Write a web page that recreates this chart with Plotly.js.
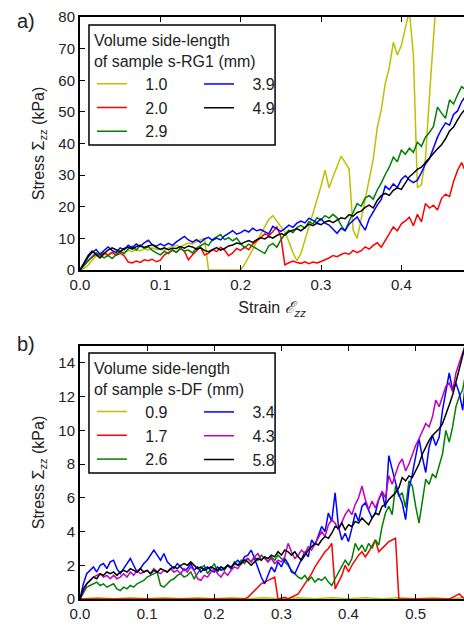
<!DOCTYPE html>
<html><head><meta charset="utf-8">
<script src="https://cdn.plot.ly/plotly-3.0.1.min.js"></script>
<style>html,body{margin:0;padding:0;background:#fff;}#chart{width:464px;height:626px;}</style>
</head><body><div id="chart"></div>
<script>
// ---------- Panel a) : sample s-RG1 ----------
const strainA = [
 0,0.005,0.01,0.015,0.02,0.025,0.03,0.035,0.04,0.045,
 0.05,0.055,0.06,0.065,0.07,0.075,0.08,0.085,0.09,0.095,
 0.1,0.105,0.11,0.115,0.12,0.125,0.13,0.135,0.14,0.145,
 0.15,0.155,0.16,0.165,0.17,0.175,0.18,0.185,0.19,0.195,
 0.2,0.205,0.21,0.215,0.22,0.225,0.23,0.235,0.24,0.245,
 0.25,0.255,0.26,0.265,0.27,0.275,0.28,0.285,0.29,0.295,
 0.3,0.305,0.31,0.315,0.32,0.325,0.33,0.335,0.34,0.345,
 0.35,0.355,0.36,0.365,0.37,0.375,0.38,0.385,0.39,0.395,
 0.4,0.405,0.41,0.415,0.42,0.425,0.43,0.435,0.44,0.445,
 0.45,0.455,0.46,0.465,0.47,0.475,0.48];
const labelsA = ["1.0","2.0","2.9","3.9","4.9"];
const stressA_10 = [
 0,0.5,1.5,3.0,4.5,4.0,5.0,4.5,5.5,5.0,
 6.0,5.5,6.2,5.8,6.5,6.0,6.8,6.3,7.0,6.5,
 6.8,6.2,7.0,7.4,7.8,7.2,8.0,8.5,8.2,9.0,
 9.6,10.0,0,0,0,0,0,0,0,0,
 0,1.8,4.0,6.5,9.0,11.5,13.8,16.0,17.2,15.5,
 13.5,12.0,9.0,5.5,3.0,5.2,9.5,13.8,17.7,22.0,
 26.5,31.6,26.0,29.5,33.0,36.0,34.0,32.0,12.6,10.0,
 16.0,22.0,28.0,35.0,45.0,50.6,59.0,64.0,72.0,68.0,
 71.0,76.0,82.0,68.0,26.0,27.0,35.0,55.0,76.0,92.0,
 110];
const stressA_20 = [
 0,1.5,3.0,4.0,5.0,4.6,5.4,4.8,5.6,4.6,
 5.3,4.5,2.5,2.2,2.8,2.4,3.2,2.9,3.4,2.6,
 3.1,4.8,5.5,6.2,5.6,6.8,5.9,3.2,4.8,6.2,
 7.3,4.7,5.3,6.5,5.8,7.2,6.3,4.5,5.4,6.8,
 6.2,7.3,6.4,8.2,9.1,10.2,11.4,10.8,12.1,13.6,
 10.5,1.6,2.3,2.8,2.4,2.1,2.6,2.0,2.5,2.2,
 2.7,3.2,3.8,4.6,4.2,4.9,5.4,5.0,6.2,5.5,
 6.1,7.3,6.6,7.8,8.6,7.2,9.4,11.5,13.6,12.4,
 14.6,15.5,16.7,14.0,17.6,15.2,21.0,19.6,20.5,19.0,
 22.6,24.0,23.2,28.0,31.5,34.0,31.0];
const stressA_29 = [
 0,1.5,3.0,4.2,5.5,4.5,3.8,4.6,3.6,4.8,
 5.9,5.2,6.6,7.5,6.3,7.8,6.8,7.4,6.2,5.4,
 4.8,5.9,5.2,6.4,5.6,6.8,6.0,6.3,5.4,6.9,
 7.6,8.4,7.8,9.6,10.5,11.2,9.6,10.2,9.2,10.1,
 8.4,7.0,8.2,7.5,6.8,6.0,5.2,7.6,8.4,7.2,
 9.5,11.3,12.6,11.8,13.4,14.1,13.2,15.3,14.6,16.5,
 15.8,17.2,16.4,17.6,16.5,14.2,12.3,15.4,18.2,21.0,
 20.2,22.8,23.5,22.4,25.3,27.5,30.2,32.5,35.7,34.2,
 37.9,36.6,38.5,37.2,40.4,39.1,42.0,43.5,45.4,51.5,
 49.6,48.0,53.8,52.5,55.4,58.0,57.0];
const stressA_39 = [
 0,2.0,4.0,5.5,6.5,5.0,6.0,7.3,6.2,5.5,
 7.0,6.4,7.8,7.0,8.2,7.4,8.6,9.4,8.0,7.5,
 8.3,7.6,8.4,7.8,8.9,9.8,10.6,9.5,8.8,9.6,
 8.7,9.8,10.3,9.4,10.1,9.5,10.8,11.6,12.4,11.3,
 11.8,12.6,12.0,13.2,12.4,12.8,12.1,11.4,13.8,12.9,
 12.2,13.1,14.2,13.5,14.8,15.5,14.9,16.4,15.6,15.0,
 16.2,14.8,14.2,12.8,11.6,13.2,12.5,14.5,15.8,16.8,
 14.5,12.6,16.2,18.5,20.5,22.3,26.5,25.4,27.2,26.1,
 28.6,29.8,28.5,27.6,28.4,30.8,33.5,35.2,38.4,42.0,
 44.5,46.5,45.8,49.2,50.3,53.2,55.0];
const stressA_49 = [
 0,2.5,4.5,6.0,5.0,3.8,5.2,6.3,7.0,6.5,
 5.8,6.8,7.2,6.6,7.4,7.8,7.1,7.6,8.0,7.2,
 6.5,7.0,6.4,6.9,6.8,7.4,6.9,7.6,7.3,6.6,
 7.0,6.2,5.8,6.4,7.1,6.3,6.8,7.6,7.9,8.5,
 8.2,8.8,9.3,8.7,9.6,10.2,9.8,10.6,10.1,10.9,
 11.5,11.0,12.1,12.6,13.0,12.4,13.6,14.5,14.0,14.8,
 14.3,15.2,15.6,15.0,15.8,16.5,16.2,17.5,17.0,18.2,
 18.6,19.8,20.5,19.6,22.0,23.5,24.2,23.6,25.2,26.0,
 25.5,27.4,29.5,30.6,31.8,32.5,34.0,35.5,37.0,38.3,
 39.6,41.5,44.0,45.2,47.5,49.5,51.0];

// ---------- Panel b) : sample s-DF ----------
const strainB = [
 0,0.005,0.01,0.015,0.02,0.025,0.03,0.035,0.04,0.045,
 0.05,0.055,0.06,0.065,0.07,0.075,0.08,0.085,0.09,0.095,
 0.1,0.105,0.11,0.115,0.12,0.125,0.13,0.135,0.14,0.145,
 0.15,0.155,0.16,0.165,0.17,0.175,0.18,0.185,0.19,0.195,
 0.2,0.205,0.21,0.215,0.22,0.225,0.23,0.235,0.24,0.245,
 0.25,0.255,0.26,0.265,0.27,0.275,0.28,0.285,0.29,0.295,
 0.3,0.305,0.31,0.315,0.32,0.325,0.33,0.335,0.34,0.345,
 0.35,0.355,0.36,0.365,0.37,0.375,0.38,0.385,0.39,0.395,
 0.4,0.405,0.41,0.415,0.42,0.425,0.43,0.435,0.44,0.445,
 0.45,0.455,0.46,0.465,0.47,0.475,0.48,0.485,0.49,0.495,
 0.5,0.505,0.51,0.515,0.52,0.525,0.53,0.535,0.54,0.545,
 0.55,0.555,0.56,0.565,0.57,0.575];
const labelsB = ["0.9","1.7","2.6","3.4","4.3","5.8"];
const strainB_09 = [0,0.025,0.05,0.075,0.1,0.125,0.15,0.175,0.2,0.225,0.25,0.275,0.3,0.325,0.35,0.375,0.4,0.425,0.45,0.475,0.5,0.525,0.55,0.575];
const stressB_09 = [0,0.08,0.02,0.08,0.02,0.08,0.02,0.08,0.02,0.08,0.02,0.08,0.02,0.08,0.02,0.08,0.02,0.08,0.02,0.08,0.02,0.08,0.02,0.08];
const stressB_17 = [
 0,0,0,0,0,0,0,0,0,0,
 0,0,0,0,0,0,0,0,0,0,
 0,0,0,0,0,0,0,0,0,0,
 0,0,0,0,0,0,0,0,0,0,
 0,0,0,0,0,0,0,0,0,0,
 0.1,0.3,0.5,0.7,0.9,1.0,1.1,1.2,1.3,0.0,
 0.05,0.1,0.0,0.1,0.2,0.3,0.6,0.9,1.2,1.5,
 1.9,2.2,2.5,2.8,3.0,3.3,0.6,1.0,1.4,2.0,
 1.6,2.0,2.3,2.6,2.8,2.5,2.8,3.2,3.5,2.8,
 3.0,3.2,3.4,3.5,3.6,0.0,0.0,0.0,0.0,0.0,
 0,0,0,0,0,0,0,0,0,0,
 0.0,0.1,0.2,0.3,0.1,0.0];
const stressB_26 = [
 0,0.4,0.7,0.8,0.9,1.0,0.8,0.9,0.7,0.8,
 0.9,0.6,0.5,0.7,0.6,0.8,0.7,0.9,1.0,1.1,
 1.3,1.4,1.5,1.6,0.8,0.7,0.9,1.1,1.2,1.4,
 1.5,1.3,1.4,1.6,1.2,1.5,1.8,2.0,1.5,1.8,
 2.1,1.6,1.9,1.7,2.0,1.8,2.2,2.0,2.3,2.1,
 2.4,2.2,2.5,2.3,2.6,2.4,2.2,2.5,2.3,2.6,
 2.4,2.2,2.0,1.7,1.5,1.3,1.2,1.4,1.1,1.3,
 1.0,1.2,1.1,1.3,1.0,0.8,1.2,1.6,2.0,2.3,
 2.0,2.4,3.3,2.9,3.2,2.8,3.3,3.0,3.5,3.2,
 4.3,5.1,5.5,5.0,6.7,6.1,6.3,5.4,7.0,6.7,
 5.5,4.5,5.8,7.1,6.8,7.4,7.2,7.9,8.6,10.0,
 9.3,10.2,11.4,12.0,12.4,13.5];
const stressB_34 = [
 0,0.9,1.5,1.7,1.9,1.6,2.0,2.1,1.8,2.2,
 2.3,1.8,1.5,1.8,2.1,2.4,2.0,1.6,1.8,2.1,
 2.3,2.6,2.9,2.6,2.3,2.7,2.2,2.0,1.8,2.1,
 1.9,1.7,1.8,2.1,1.7,1.9,1.6,1.8,1.9,1.7,
 1.6,1.9,1.7,1.8,2.0,1.8,2.1,2.3,2.1,2.5,
 2.6,2.9,2.4,1.8,1.3,0.9,1.4,1.9,1.6,2.2,
 1.9,2.4,2.1,1.6,1.5,1.9,2.3,2.8,2.5,3.5,
 3.2,3.8,4.3,4.0,5.1,4.6,6.3,4.3,3.5,3.9,
 3.4,4.2,5.1,4.6,5.5,5.7,5.2,4.8,5.1,5.9,
 6.3,5.4,8.5,7.6,6.9,6.2,5.7,4.7,6.5,7.4,
 8.5,9.5,8.4,7.5,9.0,9.7,9.1,9.6,11.2,12.2,
 13.4,12.4,12.8,12.2,11.2,13.2];
const stressB_43 = [
 0,0.5,0.9,1.1,1.3,1.4,1.5,1.3,1.4,1.2,
 1.4,1.2,1.3,1.5,1.3,1.6,1.4,1.7,1.5,1.6,
 1.7,1.5,1.8,1.6,1.5,1.7,1.6,1.8,1.6,1.7,
 1.5,1.8,1.6,1.9,1.7,1.2,1.1,1.4,1.3,1.6,
 1.8,1.5,1.3,1.6,1.4,1.7,1.9,1.8,2.1,2.3,
 2.4,2.2,2.5,2.7,2.3,2.5,2.2,2.4,2.1,2.3,
 2.2,2.5,3.3,2.8,2.4,2.6,2.9,2.7,3.1,2.9,
 3.3,3.6,4.0,3.7,4.4,4.7,4.5,4.1,4.6,5.0,
 5.3,5.0,5.6,6.0,6.7,5.9,5.3,5.8,5.4,5.9,
 6.4,6.0,7.3,6.8,7.4,8.0,8.3,7.6,8.0,8.6,
 9.1,9.5,10.0,10.4,10.2,10.8,11.8,11.4,12.0,12.6,
 12.8,12.3,13.4,14.0,14.7,15.2];
const stressB_58 = [
 0,0.6,0.9,1.1,1.3,1.2,1.5,1.4,1.6,1.5,
 1.6,1.4,1.6,1.7,1.6,1.8,1.7,1.6,1.8,1.6,
 1.7,1.5,1.7,1.6,1.8,1.7,1.6,1.8,1.9,1.8,
 2.0,2.1,2.0,2.2,2.0,1.8,1.9,1.7,1.8,1.9,
 1.8,1.7,1.9,1.8,2.0,1.9,2.1,2.0,2.1,2.3,
 2.2,2.0,2.2,2.4,2.3,2.5,2.4,2.6,2.5,2.8,
 2.6,2.9,2.8,2.6,2.8,2.5,2.3,2.6,2.9,3.1,
 3.3,3.2,3.5,3.7,3.6,3.9,4.3,4.2,4.5,4.1,
 4.4,4.3,4.6,4.5,4.8,4.6,4.4,4.8,5.1,5.0,
 5.5,5.6,5.9,6.1,6.3,6.6,7.2,7.0,7.3,7.2,
 7.6,8.0,8.6,9.0,9.4,9.7,9.9,10.1,10.4,10.9,
 11.5,12.1,12.9,13.6,14.5,15.2];

const xTicksA = [0,0.1,0.2,0.3,0.4];
const xTicksB = [0,0.1,0.2,0.3,0.4,0.5];

const C = {y:'#bfbf00', r:'#ff0000', g:'#008000', b:'#0000ff', m:'#bf00bf', k:'#000000'};
const PAD = '\u00a0\u00a0\u00a0';
function tr(x, y, name, color, xa, ya, leg){
  return {type:'scatter', mode:'lines', x:x, y:y, name:PAD + name, xaxis:xa, yaxis:ya,
    legend:leg, legendgroup:name+xa, line:{color:color, width:1.5}};
}
const traces = [
  tr(strainA, stressA_10, labelsA[0], C.y, 'x', 'y', 'legend'),
  tr(strainA, stressA_20, labelsA[1], C.r, 'x', 'y', 'legend'),
  tr(strainA, stressA_29, labelsA[2], C.g, 'x', 'y', 'legend'),
  tr(strainA, stressA_39, labelsA[3], C.b, 'x', 'y', 'legend2'),
  tr(strainA, stressA_49, labelsA[4], C.k, 'x', 'y', 'legend2'),
  tr(strainB_09, stressB_09, labelsB[0], C.y, 'x2', 'y2', 'legend3'),
  tr(strainB, stressB_17, labelsB[1], C.r, 'x2', 'y2', 'legend3'),
  tr(strainB, stressB_26, labelsB[2], C.g, 'x2', 'y2', 'legend3'),
  tr(strainB, stressB_34, labelsB[3], C.b, 'x2', 'y2', 'legend4'),
  tr(strainB, stressB_43, labelsB[4], C.m, 'x2', 'y2', 'legend4'),
  tr(strainB, stressB_58, labelsB[5], C.k, 'x2', 'y2', 'legend4')
];

const FONT = 'Arial, "Liberation Sans", sans-serif';
const tickFont = {family:FONT, size:15, color:'#222'};
function xax(range, ticks, anchor, title){
  const a = {range:range, tickvals:ticks, tickformat:'.1f', ticks:'inside', ticklen:5, tickwidth:1,
    tickcolor:'#000', showline:true, linecolor:'#000', linewidth:2, mirror:'ticks',
    showgrid:false, zeroline:false, tickfont:tickFont, anchor:anchor, domain:[0,1]};
  if (title) a.title = {text:title, font:{family:FONT, size:16, color:'#222'}, standoff:10};
  return a;
}
function yax(range, dtick, domain, anchor){
  return {range:range, dtick:dtick, ticks:'inside', ticklen:5, tickwidth:1, tickcolor:'#000',
    showline:true, linecolor:'#000', linewidth:2, mirror:false, showgrid:false, zeroline:false,
    tickfont:tickFont, domain:domain, anchor:anchor,
    title:{text:'Stress Σ<sub>zz</sub> (kPa)', font:{family:FONT, size:16, color:'#222'}, standoff:10}};
}
const legTitleA = 'Volume side-length<br>of sample s-RG1 (mm)';
const legTitleB = 'Volume side-length<br>of sample s-DF (mm)';
function leg(x, y, title){
  const l = {x:x, y:y, xanchor:'left', yanchor:'top', bgcolor:'rgba(0,0,0,0)', borderwidth:0,
    traceorder:'grouped', tracegroupgap:0, itemwidth:30,
    font:{family:FONT, size:16, color:'#222'}};
  if (title) l.title = {text:title, side:'top', font:{family:FONT, size:16, color:'#222'}};
  return l;
}

const layout = {
  width:464, height:626, margin:{l:80, r:0, t:17, b:27},
  paper_bgcolor:'#fff', plot_bgcolor:'#fff', showlegend:true,
  font:{family:FONT, color:'#222'},
  xaxis: xax([0,0.478], xTicksA, 'y', '\u00a0\u00a0\u00a0\u00a0\u00a0\u00a0Strain <i>ℰ</i><sub><i>zz</i></sub>'),
  yaxis: yax([0,80], 10, [0.5653,1], 'x'),
  xaxis2: xax([0,0.572], xTicksB, 'y2', null),
  yaxis2: yax([0,15], 2, [0,0.4347], 'x2'),
  legend: leg(0.031, 0.986, legTitleA),
  legend2: leg(0.31, 0.914, null),
  legend3: leg(0.031, 0.4227, legTitleB),
  legend4: leg(0.31, 0.3505, null),
  shapes:[
    {type:'rect', xref:'paper', yref:'paper', x0:0.0234, x1:0.508, y0:0.780, y1:0.9863, line:{color:'#000', width:1.5}, fillcolor:'rgba(0,0,0,0)'},
    {type:'rect', xref:'paper', yref:'paper', x0:0.0234, x1:0.508, y0:0.2165, y1:0.4227, line:{color:'#000', width:1.5}, fillcolor:'rgba(0,0,0,0)'}
  ],
  annotations:[
    {text:'a)', xref:'paper', yref:'paper', x:-0.14, y:0.993, xanchor:'center', yanchor:'middle', showarrow:false, font:{family:FONT, size:20, color:'#222'}},
    {text:'b)', xref:'paper', yref:'paper', x:-0.14, y:0.438, xanchor:'center', yanchor:'middle', showarrow:false, font:{family:FONT, size:20, color:'#222'}}
  ]
};
Plotly.newPlot('chart', traces, layout, {displayModeBar:false, staticPlot:true});
</script></body></html>
